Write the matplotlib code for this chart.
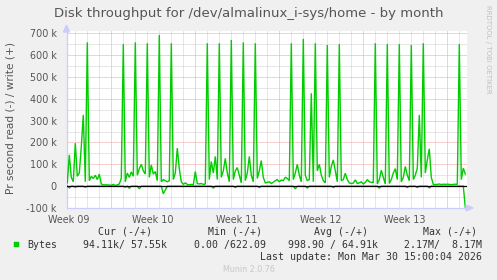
import matplotlib
matplotlib.use("Agg")
import matplotlib.pyplot as plt
from matplotlib.patches import Rectangle, Polygon
import numpy as np

# ---------------- data (values in k bytes/s, one sample every 4 hours) -------------
start_hour = 81.2          # hours after start of Week 09 of first sample
step_hours = 4
write_k = [
    15, 143, 40, 20, 197, 45, 60, 181, 326, 20,
    658, 25, 45, 35, 50, 30, 55, 10, 6, 6,
    6, 5, 4, 8, 3, 6, 10, 36, 650, 20,
    60, 40, 65, 45, 658, 50, 80, 100, 70, 55,
    654, 40, 97, 55, 67, 25, 692, 20, 30, 25,
    20, 25, 654, 30, 60, 174, 80, 20, 8, 15,
    8, 6, 8, 6, 67, 12, 10, 12, 8, 10,
    654, 30, 113, 60, 136, 30, 654, 40, 70, 127,
    60, 20, 669, 30, 70, 85, 50, 15, 658, 25,
    60, 136, 50, 20, 654, 35, 70, 117, 40, 15,
    17, 20, 12, 18, 25, 30, 20, 28, 25, 41,
    35, 25, 654, 30, 60, 100, 50, 20, 674, 50,
    25, 30, 425, 20, 654, 70, 100, 50, 25, 15,
    646, 40, 90, 120, 70, 20, 650, 25, 30, 59,
    30, 15, 12, 14, 29, 12, 15, 20, 10, 17,
    30, 20, 17, 18, 654, 10, 30, 73, 40, 10,
    650, 12, 30, 60, 80, 30, 650, 20, 40, 90,
    50, 25, 646, 30, 50, 82, 326, 40, 654, 60,
    120, 171, 40, 8, 7, 8, 10, 7, 9, 8,
    9, 8, 7, 8, 9, 8, 650, 30, 82, 55,
]
read_k = [
    0, 8, 0, 0, 5, 0, 0, 0, 0, 5,
    0, 0, 0, 0, 0, 0, 0, 0, 0, 0,
    0, 0, 0, 0, 0, 0, 0, 0, 0, 5,
    0, 10, 0, 0, 0, 0, 12, 0, 0, 0,
    0, 0, 0, 0, 0, 0, 0, 0, 35, 17,
    0, 0, 0, 0, 0, 0, 0, 0, 0, 0,
    0, 0, 0, 0, 0, 0, 0, 0, 0, 0,
    0, 0, 0, 9, 0, 0, 0, 0, 0, 0,
    0, 0, 0, 0, 6, 0, 0, 0, 0, 0,
    0, 0, 0, 0, 0, 0, 6, 0, 0, 0,
    0, 0, 0, 0, 0, 0, 0, 0, 0, 0,
    0, 0, 0, 0, 12, 0, 0, 0, 0, 0,
    9, 0, 0, 0, 0, 0, 0, 0, 0, 0,
    0, 0, 0, 6, 0, 0, 0, 0, 0, 0,
    0, 0, 0, 0, 0, 0, 0, 0, 0, 0,
    0, 0, 0, 0, 0, 0, 9, 0, 0, 0,
    0, 0, 0, 0, 0, 0, 0, 0, 0, 0,
    6, 0, 0, 0, 0, 6, 0, 0, 0, 0,
    0, 8, 0, 0, 0, 0, 0, 0, 0, 0,
    0, 0, 0, 0, 0, 0, 0, 0, 0, 98,
]
week_labels = ["Week 09", "Week 10", "Week 11", "Week 12", "Week 13"]
y_ticks = [-100e3, 0, 100e3, 200e3, 300e3, 400e3, 500e3, 600e3, 700e3]
y_tick_labels = ["-100 k", "0", "100 k", "200 k", "300 k", "400 k", "500 k", "600 k", "700 k"]

title = "Disk throughput for /dev/almalinux_i-sys/home - by month"
ylabel = "Pr second read (-) / write (+)"
legend_name = "Bytes"
legend_headers = ["Cur (-/+)", "Min (-/+)", "Avg (-/+)", "Max (-/+)"]
legend_values = ["94.11k/ 57.55k", "0.00 /622.09", "998.90 / 64.91k", "2.17M/  8.17M"]
last_update = "Last update: Mon Mar 30 15:00:04 2026"
munin_ver = "Munin 2.0.76"
rrd_credit = "RRDTOOL / TOBI OETIKER"

# ---------------- figure ----------------
W, H = 497, 280
fig = plt.figure(figsize=(W / 100, H / 100), dpi=100)
fig.patch.set_facecolor("#f0f0f0")

def fx(px):
    return px / W

def fy(py):
    return 1 - py / H

L, R, T, B = 66.5, 467.0, 31.0, 208.0
ax = fig.add_axes([fx(L), fy(B), fx(R) - fx(L), fy(T) - fy(B)])
ax.set_facecolor("white")

hours = start_hour + step_hours * np.arange(len(write_k))
days = hours / 24.0
write = np.array(write_k) * 1000.0
read = -np.array(read_k) * 1000.0

x0 = (L - 26.7) / 12.0
x1 = (R - 26.7) / 12.0
ax.set_xlim(x0, x1)
ax.set_ylim(-100e3, 710e3)

lw1 = 0.72
minor_col = "#cfcfcf"
major_col = "#f2a0a0"
dot = (0, (1, 1))

# vertical grid: days (minor) and weeks (major)
for d in range(4, 37):
    if d % 7 == 0:
        ax.axvline(d, color=major_col, lw=lw1, ls=dot, zorder=1)
    else:
        ax.axvline(d, color=minor_col, lw=lw1, ls=dot, zorder=1)
# horizontal grid
for v in np.arange(-50e3, 701e3, 50e3):
    if abs(v) < 1:
        continue
    if int(round(v)) % 100000 == 0:
        ax.axhline(v, color=major_col, lw=lw1, ls=dot, zorder=1)
    else:
        ax.axhline(v, color=minor_col, lw=lw1, ls=dot, zorder=1)

ax.plot(days, write, color="#00cc00", lw=1.0, zorder=3, solid_joinstyle="miter")
ax.plot(days, read, color="#00cc00", lw=1.0, zorder=3, solid_joinstyle="miter")
ax.axhline(0, color="black", lw=0.9, zorder=4)

for s in ["top", "right"]:
    ax.spines[s].set_visible(False)
for s in ["left", "bottom"]:
    ax.spines[s].set_color("#ccccff")
    ax.spines[s].set_linewidth(0.9)

ax.set_xticks([3.5 + 7 * k for k in range(len(week_labels))])
ax.set_xticklabels(week_labels)
ax.set_yticks(y_ticks)
ax.set_yticklabels(y_tick_labels)
ax.tick_params(axis="both", length=0, labelsize=6.9, labelcolor="#555555")
ax.tick_params(axis="y", pad=7)
ax.tick_params(axis="x", pad=5)
for lab in ax.get_xticklabels() + ax.get_yticklabels():
    lab.set_family("DejaVu Sans")

# arrows on axes
arrow_col = "#ccccff"
fig.patches.append(Polygon([(fx(L - 3), fy(T + 1)), (fx(L + 3), fy(T + 1)), (fx(L), fy(T - 6))],
                           closed=True, transform=fig.transFigure, color=arrow_col, zorder=5))
fig.patches.append(Polygon([(fx(R - 1), fy(B - 3)), (fx(R - 1), fy(B + 3)), (fx(R + 6), fy(B))],
                           closed=True, transform=fig.transFigure, color=arrow_col, zorder=5))

# title & labels
fig.text(fx(248.5), fy(13.5), title, ha="center", va="center", fontsize=9.5,
         color="#555555", family="DejaVu Sans")
fig.text(fx(10.5), fy(118.5), ylabel, ha="center", va="center", rotation=90,
         fontsize=7.6, color="#555555", family="DejaVu Sans")
fig.text(fx(488), fy(5), rrd_credit, ha="center", va="top", rotation=270,
         fontsize=5.0, color="#c0c0c0", family="DejaVu Sans")

# legend
mono = "DejaVu Sans Mono"
lfs = 7.15
lc = "#333333"
fig.patches.append(Rectangle((fx(14), fy(247.3)), fx(19.3) - fx(14), fy(242) - fy(247.3),
                             transform=fig.transFigure, facecolor="#00cc00",
                             edgecolor="#00cc00", lw=0.3))
fig.text(fx(27), fy(245), legend_name, ha="left", va="center", fontsize=lfs, color=lc, family=mono)
header_x = [125, 234.5, 341.5, 450]
for hx, htxt in zip(header_x, legend_headers):
    fig.text(fx(hx), fy(232), htxt, ha="center", va="center", fontsize=lfs, color=lc, family=mono)
value_right = [167, 265.5, 378, 482.5]
for vx, vtxt in zip(value_right, legend_values):
    fig.text(fx(vx), fy(245), vtxt, ha="right", va="center", fontsize=lfs, color=lc, family=mono)
fig.text(fx(482.5), fy(257), last_update, ha="right", va="center", fontsize=lfs, color=lc, family=mono)
fig.text(fx(249), fy(269), munin_ver, ha="center", va="center", fontsize=5.8, color="#c8c8c8",
         family="DejaVu Sans")

fig.savefig("out.png", dpi=100, facecolor=fig.get_facecolor())
